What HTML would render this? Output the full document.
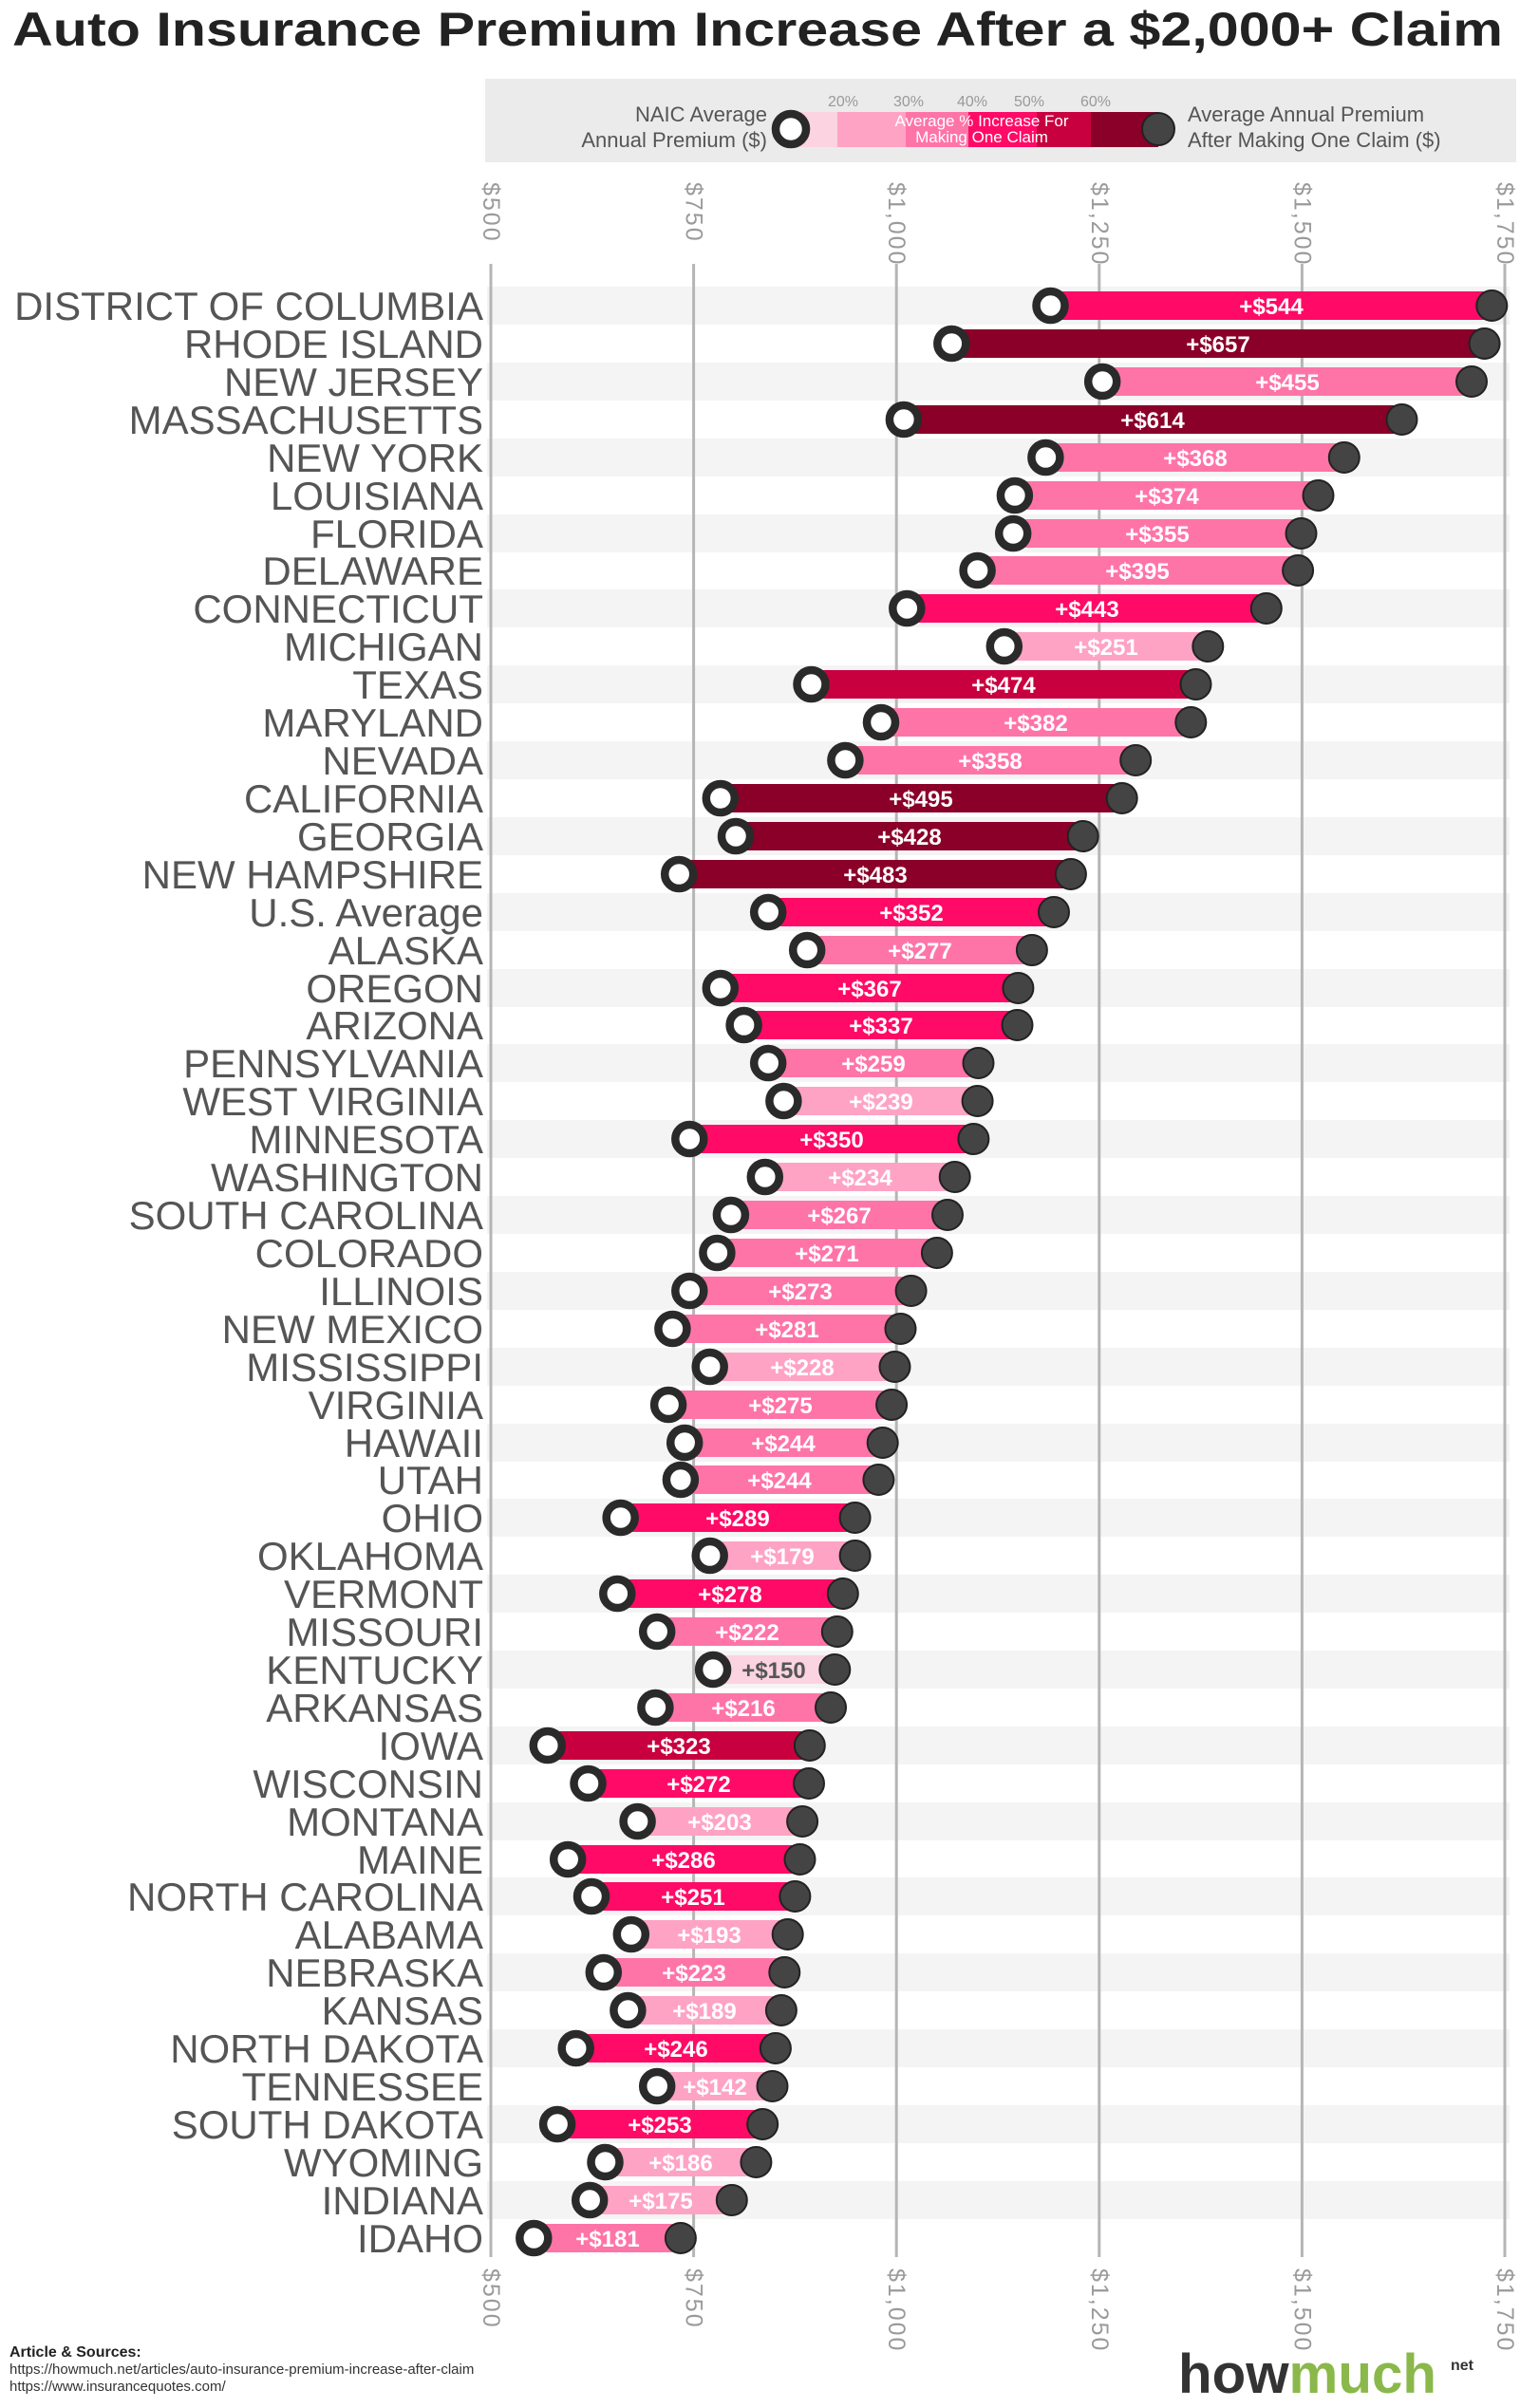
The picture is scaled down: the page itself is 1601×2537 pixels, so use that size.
<!DOCTYPE html>
<html><head><meta charset="utf-8"><style>
html,body{margin:0;padding:0;background:#fff;}
svg{display:block;font-family:"Liberation Sans",sans-serif;}
.s{font-size:42px;fill:#555;text-anchor:end;}
.v{font-size:24px;fill:#fff;text-anchor:middle;font-weight:bold;}
.ax{font-size:25px;fill:#9a9a9a;letter-spacing:2px;}
.o{fill:#fff;stroke:#2a2a2a;stroke-width:8.5;}
.d{fill:#444;stroke:#222;stroke-width:2;}
.c1{fill:#fcd3e1}.c2{fill:#ffa3c4}.c3{fill:#ff74a7}.c4{fill:#ff0a66}.c5{fill:#c8003f}.c6{fill:#8a0029}
</style></head><body>
<svg width="1601" height="2537" viewBox="0 0 1601 2537" xmlns="http://www.w3.org/2000/svg">
<text x="13" y="48" font-size="50" font-weight="bold" fill="#222" textLength="1570" lengthAdjust="spacingAndGlyphs">Auto Insurance Premium Increase After a $2,000+ Claim</text>

<!-- legend -->
<rect x="511" y="83" width="1086" height="88" fill="#ebebeb"/>
<rect x="840" y="118" width="42" height="37" class="c1"/>
<rect x="882" y="118" width="72" height="37" class="c2"/>
<rect x="954" y="118" width="66" height="37" class="c3"/>
<rect x="1020" y="118" width="72" height="37" class="c4"/>
<rect x="1092" y="118" width="57" height="37" class="c5"/>
<rect x="1149" y="118" width="71" height="37" class="c6"/>
<circle cx="833" cy="136" r="16" class="o"/>
<circle cx="1220" cy="136" r="17" class="d"/>
<g font-size="16" fill="#999" text-anchor="middle">
<text x="888" y="112">20%</text><text x="957" y="112">30%</text><text x="1024" y="112">40%</text><text x="1084" y="112">50%</text><text x="1154" y="112">60%</text>
</g>
<g font-size="17" fill="#fff" text-anchor="middle">
<text x="1034" y="133">Average % Increase For</text><text x="1034" y="150">Making One Claim</text>
</g>
<g font-size="22" fill="#555">
<text x="808" y="128" text-anchor="end">NAIC Average</text>
<text x="808" y="155" text-anchor="end">Annual Premium ($)</text>
<text x="1251" y="128">Average Annual Premium</text>
<text x="1251" y="155">After Making One Claim ($)</text>
</g>

<!-- bands -->
<g fill="#f4f4f4">
<rect x="513" y="302" width="1077" height="40"/><rect x="513" y="382" width="1077" height="40"/><rect x="513" y="462" width="1077" height="40"/><rect x="513" y="542" width="1077" height="40"/><rect x="513" y="621" width="1077" height="40"/><rect x="513" y="701" width="1077" height="40"/><rect x="513" y="781" width="1077" height="40"/><rect x="513" y="861" width="1077" height="40"/><rect x="513" y="941" width="1077" height="40"/><rect x="513" y="1021" width="1077" height="40"/><rect x="513" y="1100" width="1077" height="40"/><rect x="513" y="1180" width="1077" height="40"/><rect x="513" y="1260" width="1077" height="40"/><rect x="513" y="1340" width="1077" height="40"/><rect x="513" y="1420" width="1077" height="40"/><rect x="513" y="1500" width="1077" height="40"/><rect x="513" y="1579" width="1077" height="40"/><rect x="513" y="1659" width="1077" height="40"/><rect x="513" y="1739" width="1077" height="40"/><rect x="513" y="1819" width="1077" height="40"/><rect x="513" y="1899" width="1077" height="40"/><rect x="513" y="1978" width="1077" height="40"/><rect x="513" y="2058" width="1077" height="40"/><rect x="513" y="2138" width="1077" height="40"/><rect x="513" y="2218" width="1077" height="40"/><rect x="513" y="2298" width="1077" height="40"/>
</g>

<!-- grid -->
<g stroke="#b5b5b5" stroke-width="3">
<line x1="517" y1="278" x2="517" y2="2378"/><line x1="730.6" y1="278" x2="730.6" y2="2378"/><line x1="944.2" y1="278" x2="944.2" y2="2378"/><line x1="1157.8" y1="278" x2="1157.8" y2="2378"/><line x1="1371.4" y1="278" x2="1371.4" y2="2378"/><line x1="1585" y1="278" x2="1585" y2="2378"/>
</g>
<g class="ax">
<text transform="translate(509,192) rotate(90)">$500</text><text transform="translate(722.6,192) rotate(90)">$750</text><text transform="translate(936.2,192) rotate(90)">$1,000</text><text transform="translate(1149.8,192) rotate(90)">$1,250</text><text transform="translate(1363.4,192) rotate(90)">$1,500</text><text transform="translate(1577,192) rotate(90)">$1,750</text>
<text transform="translate(509,2390) rotate(90)">$500</text><text transform="translate(722.6,2390) rotate(90)">$750</text><text transform="translate(936.2,2390) rotate(90)">$1,000</text><text transform="translate(1149.8,2390) rotate(90)">$1,250</text><text transform="translate(1363.4,2390) rotate(90)">$1,500</text><text transform="translate(1577,2390) rotate(90)">$1,750</text>
</g>

<!-- state labels -->
<g class="s">
<text x="509" y="337">DISTRICT OF COLUMBIA</text>
<text x="509" y="377">RHODE ISLAND</text>
<text x="509" y="417">NEW JERSEY</text>
<text x="509" y="457">MASSACHUSETTS</text>
<text x="509" y="497">NEW YORK</text>
<text x="509" y="537">LOUISIANA</text>
<text x="509" y="577">FLORIDA</text>
<text x="509" y="616">DELAWARE</text>
<text x="509" y="656">CONNECTICUT</text>
<text x="509" y="696">MICHIGAN</text>
<text x="509" y="736">TEXAS</text>
<text x="509" y="776">MARYLAND</text>
<text x="509" y="816">NEVADA</text>
<text x="509" y="856">CALIFORNIA</text>
<text x="509" y="896">GEORGIA</text>
<text x="509" y="936">NEW HAMPSHIRE</text>
<text x="509" y="976">U.S. Average</text>
<text x="509" y="1016">ALASKA</text>
<text x="509" y="1056">OREGON</text>
<text x="509" y="1095">ARIZONA</text>
<text x="509" y="1135">PENNSYLVANIA</text>
<text x="509" y="1175">WEST VIRGINIA</text>
<text x="509" y="1215">MINNESOTA</text>
<text x="509" y="1255">WASHINGTON</text>
<text x="509" y="1295">SOUTH CAROLINA</text>
<text x="509" y="1335">COLORADO</text>
<text x="509" y="1375">ILLINOIS</text>
<text x="509" y="1415">NEW MEXICO</text>
<text x="509" y="1455">MISSISSIPPI</text>
<text x="509" y="1495">VIRGINIA</text>
<text x="509" y="1535">HAWAII</text>
<text x="509" y="1574">UTAH</text>
<text x="509" y="1614">OHIO</text>
<text x="509" y="1654">OKLAHOMA</text>
<text x="509" y="1694">VERMONT</text>
<text x="509" y="1734">MISSOURI</text>
<text x="509" y="1774">KENTUCKY</text>
<text x="509" y="1814">ARKANSAS</text>
<text x="509" y="1854">IOWA</text>
<text x="509" y="1894">WISCONSIN</text>
<text x="509" y="1934">MONTANA</text>
<text x="509" y="1974">MAINE</text>
<text x="509" y="2013">NORTH CAROLINA</text>
<text x="509" y="2053">ALABAMA</text>
<text x="509" y="2093">NEBRASKA</text>
<text x="509" y="2133">KANSAS</text>
<text x="509" y="2173">NORTH DAKOTA</text>
<text x="509" y="2213">TENNESSEE</text>
<text x="509" y="2253">SOUTH DAKOTA</text>
<text x="509" y="2293">WYOMING</text>
<text x="509" y="2333">INDIANA</text>
<text x="509" y="2373">IDAHO</text>
</g>

<!-- bars -->
<g>
<rect x="1106.5" y="307" width="464.8" height="30" class="c4"/>
<rect x="1002.3" y="347" width="561.3" height="30" class="c6"/>
<rect x="1161.2" y="387" width="388.8" height="30" class="c3"/>
<rect x="951.9" y="427" width="524.6" height="30" class="c6"/>
<rect x="1101.4" y="467" width="314.4" height="30" class="c3"/>
<rect x="1068.9" y="507" width="319.6" height="30" class="c3"/>
<rect x="1067.2" y="547" width="303.3" height="30" class="c3"/>
<rect x="1029.6" y="586" width="337.5" height="30" class="c3"/>
<rect x="955.3" y="626" width="378.5" height="30" class="c4"/>
<rect x="1057.8" y="666" width="214.5" height="30" class="c2"/>
<rect x="854.5" y="706" width="405" height="30" class="c5"/>
<rect x="928" y="746" width="326.3" height="30" class="c3"/>
<rect x="890.4" y="786" width="305.8" height="30" class="c3"/>
<rect x="758.8" y="826" width="422.9" height="30" class="c6"/>
<rect x="775" y="866" width="365.7" height="30" class="c6"/>
<rect x="715.2" y="906" width="412.7" height="30" class="c6"/>
<rect x="809.2" y="946" width="300.8" height="30" class="c4"/>
<rect x="850.2" y="986" width="236.7" height="30" class="c3"/>
<rect x="758.8" y="1026" width="313.6" height="30" class="c4"/>
<rect x="783.6" y="1065" width="287.9" height="30" class="c4"/>
<rect x="809.2" y="1105" width="221.3" height="30" class="c3"/>
<rect x="825.4" y="1145" width="204.2" height="30" class="c2"/>
<rect x="726.3" y="1185" width="299.1" height="30" class="c4"/>
<rect x="805.8" y="1225" width="199.9" height="30" class="c2"/>
<rect x="769.9" y="1265" width="228.1" height="30" class="c3"/>
<rect x="755.4" y="1305" width="231.5" height="30" class="c3"/>
<rect x="726.3" y="1345" width="233.3" height="30" class="c3"/>
<rect x="708.4" y="1385" width="240.1" height="30" class="c3"/>
<rect x="747.7" y="1425" width="194.8" height="30" class="c2"/>
<rect x="704.1" y="1465" width="235" height="30" class="c3"/>
<rect x="721.2" y="1505" width="208.5" height="30" class="c3"/>
<rect x="716.9" y="1544" width="208.5" height="30" class="c3"/>
<rect x="653.7" y="1584" width="246.9" height="30" class="c4"/>
<rect x="747.7" y="1624" width="152.9" height="30" class="c2"/>
<rect x="650.3" y="1664" width="237.5" height="30" class="c4"/>
<rect x="692.2" y="1704" width="189.6" height="30" class="c3"/>
<rect x="751.1" y="1744" width="128.2" height="30" class="c1"/>
<rect x="690.4" y="1784" width="184.6" height="30" class="c3"/>
<rect x="576.8" y="1824" width="276" height="30" class="c5"/>
<rect x="619.5" y="1864" width="232.5" height="30" class="c4"/>
<rect x="671.6" y="1904" width="173.5" height="30" class="c2"/>
<rect x="598.2" y="1944" width="244.3" height="30" class="c4"/>
<rect x="623" y="1983" width="214.4" height="30" class="c4"/>
<rect x="664.8" y="2023" width="164.9" height="30" class="c2"/>
<rect x="635.8" y="2063" width="190.5" height="30" class="c3"/>
<rect x="661.4" y="2103" width="161.5" height="30" class="c2"/>
<rect x="606.7" y="2143" width="210.2" height="30" class="c4"/>
<rect x="692.2" y="2183" width="121.3" height="30" class="c2"/>
<rect x="587.1" y="2223" width="216.1" height="30" class="c4"/>
<rect x="637.5" y="2263" width="158.9" height="30" class="c2"/>
<rect x="621.2" y="2303" width="149.6" height="30" class="c2"/>
<rect x="562.3" y="2343" width="154.6" height="30" class="c3"/>
</g>

<!-- end circles -->
<g class="d">
<circle cx="1571.3" cy="322" r="16"/><circle cx="1563.6" cy="362" r="16"/><circle cx="1550" cy="402" r="16"/><circle cx="1476.5" cy="442" r="16"/><circle cx="1415.8" cy="482" r="16"/><circle cx="1388.5" cy="522" r="16"/><circle cx="1370.5" cy="562" r="16"/><circle cx="1367.1" cy="601" r="16"/><circle cx="1333.8" cy="641" r="16"/><circle cx="1272.3" cy="681" r="16"/><circle cx="1259.5" cy="721" r="16"/><circle cx="1254.3" cy="761" r="16"/><circle cx="1196.2" cy="801" r="16"/><circle cx="1181.7" cy="841" r="16"/><circle cx="1140.7" cy="881" r="16"/><circle cx="1127.9" cy="921" r="16"/><circle cx="1110" cy="961" r="16"/><circle cx="1086.9" cy="1001" r="16"/><circle cx="1072.4" cy="1041" r="16"/><circle cx="1071.5" cy="1080" r="16"/><circle cx="1030.5" cy="1120" r="16"/><circle cx="1029.6" cy="1160" r="16"/><circle cx="1025.4" cy="1200" r="16"/><circle cx="1005.7" cy="1240" r="16"/><circle cx="998" cy="1280" r="16"/><circle cx="986.9" cy="1320" r="16"/><circle cx="959.6" cy="1360" r="16"/><circle cx="948.5" cy="1400" r="16"/><circle cx="942.5" cy="1440" r="16"/><circle cx="939.1" cy="1480" r="16"/><circle cx="929.7" cy="1520" r="16"/><circle cx="925.4" cy="1559" r="16"/><circle cx="900.6" cy="1599" r="16"/><circle cx="900.6" cy="1639" r="16"/><circle cx="887.8" cy="1679" r="16"/><circle cx="881.8" cy="1719" r="16"/><circle cx="879.3" cy="1759" r="16"/><circle cx="875" cy="1799" r="16"/><circle cx="852.8" cy="1839" r="16"/><circle cx="852" cy="1879" r="16"/><circle cx="845.1" cy="1919" r="16"/><circle cx="842.5" cy="1959" r="16"/><circle cx="837.4" cy="1998" r="16"/><circle cx="829.7" cy="2038" r="16"/><circle cx="826.3" cy="2078" r="16"/><circle cx="822.9" cy="2118" r="16"/><circle cx="816.9" cy="2158" r="16"/><circle cx="813.5" cy="2198" r="16"/><circle cx="803.2" cy="2238" r="16"/><circle cx="796.4" cy="2278" r="16"/><circle cx="770.8" cy="2318" r="16"/><circle cx="716.9" cy="2358" r="16"/>
</g>

<!-- start circles -->
<g class="o">
<circle cx="1106.5" cy="322" r="15"/><circle cx="1002.3" cy="362" r="15"/><circle cx="1161.2" cy="402" r="15"/><circle cx="951.9" cy="442" r="15"/><circle cx="1101.4" cy="482" r="15"/><circle cx="1068.9" cy="522" r="15"/><circle cx="1067.2" cy="562" r="15"/><circle cx="1029.6" cy="601" r="15"/><circle cx="955.3" cy="641" r="15"/><circle cx="1057.8" cy="681" r="15"/><circle cx="854.5" cy="721" r="15"/><circle cx="928" cy="761" r="15"/><circle cx="890.4" cy="801" r="15"/><circle cx="758.8" cy="841" r="15"/><circle cx="775" cy="881" r="15"/><circle cx="715.2" cy="921" r="15"/><circle cx="809.2" cy="961" r="15"/><circle cx="850.2" cy="1001" r="15"/><circle cx="758.8" cy="1041" r="15"/><circle cx="783.6" cy="1080" r="15"/><circle cx="809.2" cy="1120" r="15"/><circle cx="825.4" cy="1160" r="15"/><circle cx="726.3" cy="1200" r="15"/><circle cx="805.8" cy="1240" r="15"/><circle cx="769.9" cy="1280" r="15"/><circle cx="755.4" cy="1320" r="15"/><circle cx="726.3" cy="1360" r="15"/><circle cx="708.4" cy="1400" r="15"/><circle cx="747.7" cy="1440" r="15"/><circle cx="704.1" cy="1480" r="15"/><circle cx="721.2" cy="1520" r="15"/><circle cx="716.9" cy="1559" r="15"/><circle cx="653.7" cy="1599" r="15"/><circle cx="747.7" cy="1639" r="15"/><circle cx="650.3" cy="1679" r="15"/><circle cx="692.2" cy="1719" r="15"/><circle cx="751.1" cy="1759" r="15"/><circle cx="690.4" cy="1799" r="15"/><circle cx="576.8" cy="1839" r="15"/><circle cx="619.5" cy="1879" r="15"/><circle cx="671.6" cy="1919" r="15"/><circle cx="598.2" cy="1959" r="15"/><circle cx="623" cy="1998" r="15"/><circle cx="664.8" cy="2038" r="15"/><circle cx="635.8" cy="2078" r="15"/><circle cx="661.4" cy="2118" r="15"/><circle cx="606.7" cy="2158" r="15"/><circle cx="692.2" cy="2198" r="15"/><circle cx="587.1" cy="2238" r="15"/><circle cx="637.5" cy="2278" r="15"/><circle cx="621.2" cy="2318" r="15"/><circle cx="562.3" cy="2358" r="15"/>
</g>

<!-- value labels -->
<g class="v">
<text x="1339" y="331">+$544</text><text x="1283" y="371">+$657</text><text x="1356" y="411">+$455</text><text x="1214" y="451">+$614</text><text x="1259" y="491">+$368</text><text x="1229" y="531">+$374</text><text x="1219" y="571">+$355</text><text x="1198" y="610">+$395</text><text x="1145" y="650">+$443</text><text x="1165" y="690">+$251</text><text x="1057" y="730">+$474</text><text x="1091" y="770">+$382</text><text x="1043" y="810">+$358</text><text x="970" y="850">+$495</text><text x="958" y="890">+$428</text><text x="922" y="930">+$483</text><text x="960" y="970">+$352</text><text x="969" y="1010">+$277</text><text x="916" y="1050">+$367</text><text x="928" y="1089">+$337</text><text x="920" y="1129">+$259</text><text x="928" y="1169">+$239</text><text x="876" y="1209">+$350</text><text x="906" y="1249">+$234</text><text x="884" y="1289">+$267</text><text x="871" y="1329">+$271</text><text x="843" y="1369">+$273</text><text x="829" y="1409">+$281</text><text x="845" y="1449">+$228</text><text x="822" y="1489">+$275</text><text x="825" y="1529">+$244</text><text x="821" y="1568">+$244</text><text x="777" y="1608">+$289</text><text x="824" y="1648">+$179</text><text x="769" y="1688">+$278</text><text x="787" y="1728">+$222</text><text x="815" y="1768" fill="#555">+$150</text><text x="783" y="1808">+$216</text><text x="715" y="1848">+$323</text><text x="736" y="1888">+$272</text><text x="758" y="1928">+$203</text><text x="720" y="1968">+$286</text><text x="730" y="2007">+$251</text><text x="747" y="2047">+$193</text><text x="731" y="2087">+$223</text><text x="742" y="2127">+$189</text><text x="712" y="2167">+$246</text><text x="753" y="2207">+$142</text><text x="695" y="2247">+$253</text><text x="717" y="2287">+$186</text><text x="696" y="2327">+$175</text><text x="640" y="2367">+$181</text>
</g>

<!-- footer -->
<text x="10" y="2483" font-size="16" font-weight="bold" fill="#222">Article &amp; Sources:</text>
<text x="10" y="2501" font-size="15" fill="#333">https://howmuch.net/articles/auto-insurance-premium-increase-after-claim</text>
<text x="10" y="2519" font-size="15" fill="#333">https://www.insurancequotes.com/</text>
<text x="1241" y="2521" font-size="58" font-weight="bold" textLength="272" lengthAdjust="spacingAndGlyphs"><tspan fill="#333">how</tspan><tspan fill="#8ab84a">much</tspan></text>
<text x="1528" y="2497" font-size="16" font-weight="bold" fill="#333">net</text>
</svg>
</body></html>
